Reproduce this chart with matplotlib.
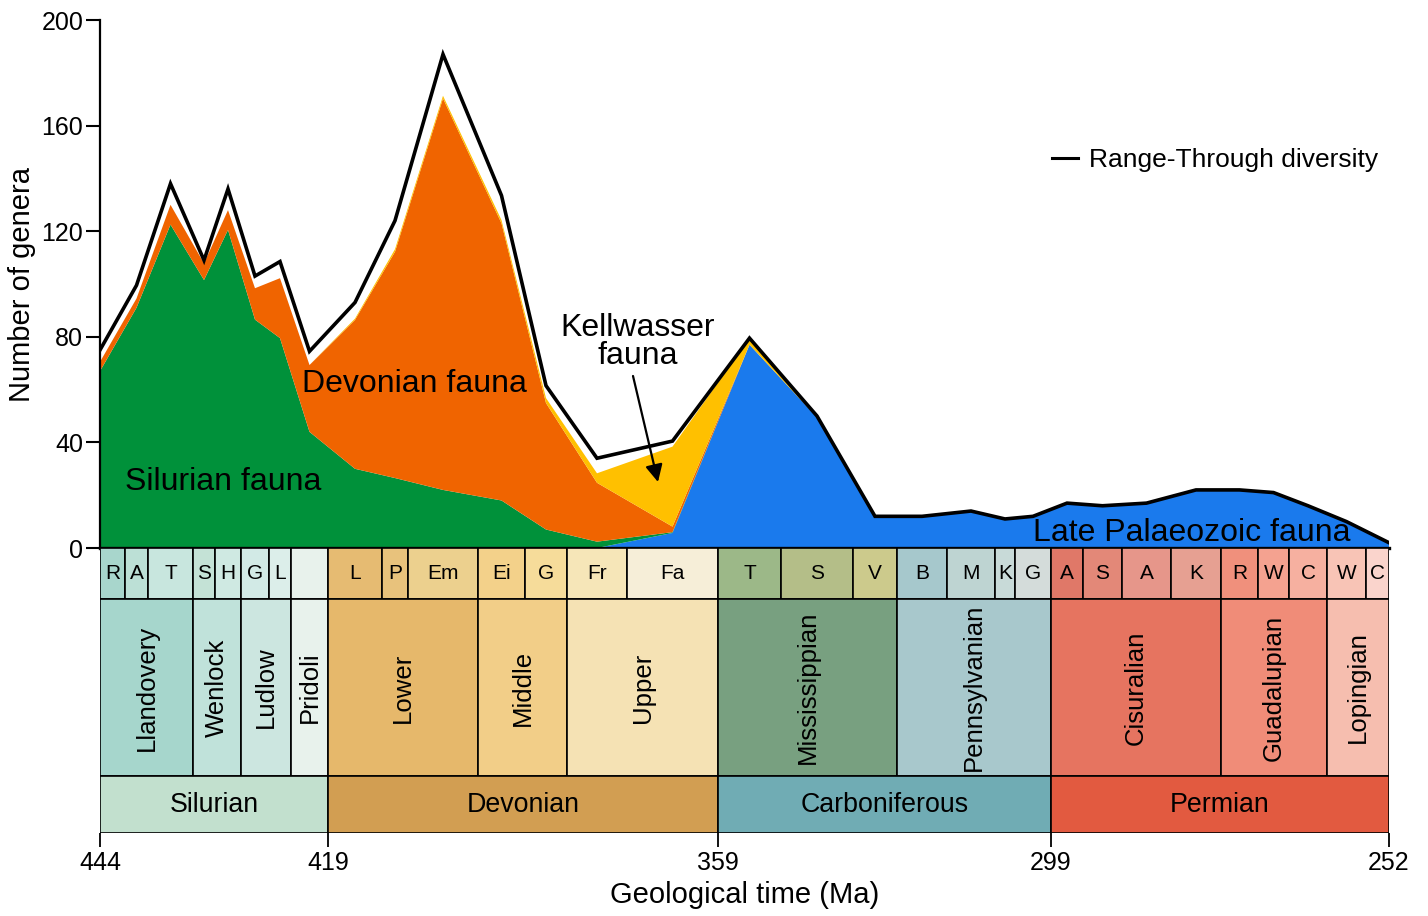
import matplotlib
matplotlib.use("Agg")
import matplotlib.pyplot as plt
import numpy as np
from matplotlib.patches import Rectangle
from matplotlib.lines import Line2D

plt.rcParams["font.family"] = ["Liberation Sans", "DejaVu Sans"]

# --- time scale (Ma, oldest first) ---
stage_edges = [444, 440.8, 438.5, 433.4, 430.5, 427.4, 425.6, 423.0, 419,
               410.8, 407.6, 393.3, 387.7, 382.7, 372.2, 359,
               346.7, 330.9, 323.2, 315.2, 307.0, 303.7, 299,
               293.5, 290.1, 283.5, 273.0, 266.9, 264.3, 259.5, 254.1, 252]
stage_names = ["R", "A", "T", "S", "H", "G", "L", "",
               "L", "P", "Em", "Ei", "G", "Fr", "Fa",
               "T", "S", "V", "B", "M", "K", "G",
               "A", "S", "A", "K", "R", "W", "C", "W", "C"]
stage_colors = ["#a8d6cc", "#bce0d6", "#c8e6de", "#c4e2d6", "#cfe9e2", "#d2eae6", "#dceeea", "#e8f2ec",
                "#e6bb72", "#e8c27c", "#ecd08e", "#f3d18a", "#f6dc9a", "#f6e6b8", "#f6eed8",
                "#9cb888", "#b4be88", "#ccca8c", "#a6c8cc", "#bed4d2", "#c8dad8", "#d4dcda",
                "#e07868", "#e38878", "#e6968a", "#e6a092", "#f0907c", "#f4a290", "#f6b0a0", "#f8c4b6", "#fad4cc"]
series_edges = [444, 433.4, 427.4, 423.0, 419, 393.3, 382.7, 359, 323.2, 299, 273.0, 259.5, 252]
series_names = ["Llandovery", "Wenlock", "Ludlow", "Pridoli", "Lower", "Middle", "Upper",
                "Mississippian", "Pennsylvanian", "Cisuralian", "Guadalupian", "Lopingian"]
series_colors = ["#a6d6cc", "#c0e2da", "#cce6e0", "#e8f2ec", "#e6b86b", "#f2ce88", "#f5e2b4",
                 "#78a080", "#a8c8cc", "#e67460", "#f08c78", "#f6beaf"]
period_edges = [444, 419, 359, 299, 252]
period_names = ["Silurian", "Devonian", "Carboniferous", "Permian"]
period_colors = ["#c2e0ce", "#d29e52", "#70acb4", "#e25a40"]

# drawn position of each stage boundary (the original axis is not to scale)
stage_px = [0, 25, 48, 93, 115, 141, 169, 191, 228, 282, 308, 378, 425, 467, 527, 618,
            681, 753, 797, 847, 895, 915, 951, 983, 1022, 1071, 1121, 1158, 1189, 1227, 1266, 1289]

# --- diversity data (genera) ---
point_age = [444, 439.65, 435.95, 431.95, 428.95, 426.5, 424.3, 421.0,
             414.9, 409.2, 400.45, 390.5, 385.2, 377.45, 365.6,
             352.85, 338.8, 327.05, 319.2, 311.1, 305.35, 301.35,
             296.25, 291.8, 286.8, 278.25, 269.95, 265.6, 261.9, 256.8, 252]
total = [75, 99.5, 138, 109, 136, 103, 108.5, 74.5, 93, 124, 187, 133.5, 61.5, 34, 40.5,
         79.5, 50, 12, 12, 14, 11, 12, 17, 16, 17, 22, 22, 21, 16, 10, 2]
late_palaeozoic = [0, 0, 0, 0, 0, 0, 0, 0, 0, 0, 0, 0, 0, 0, 5.7,
                   77, 49.5, 12, 12, 14, 11, 12, 17, 16, 17, 22, 22, 21, 16, 10, 2]
silurian = [67, 91, 122.5, 101.5, 120.5, 86.5, 79.5, 44, 30, 26.5, 22, 18, 7, 2.4, 0.3,
            0, 0, 0, 0, 0, 0, 0, 0, 0, 0, 0, 0, 0, 0, 0, 0]
devonian = [3.5, 3.5, 7.5, 6.3, 7.5, 11.9, 22.7, 25.3, 56.4, 85.7, 148.3, 105, 47.9, 22.3, 2.1,
            0, 0, 0, 0, 0, 0, 0, 0, 0, 0, 0, 0, 0, 0, 0, 0]
kellwasser = [0, 0, 0, 0, 0, 0, 0, 0, 0.5, 1, 1, 1.2, 1.9, 3.6, 30.3,
              2.5, 0.3, 0, 0, 0, 0, 0, 0, 0, 0, 0, 0, 0, 0, 0, 0]

edges_neg = -np.array(stage_edges, float)
px = np.array(stage_px, float)


def fwd(a):
    return np.interp(-np.asarray(a, float), edges_neg, px)


def inv(p):
    return np.interp(np.asarray(p, float), px, np.array(stage_edges, float))


fig = plt.figure(figsize=(14.28, 9.16), dpi=100)
W, H = 1428, 916
x0, x1 = 100, 1389
ax = fig.add_axes([x0 / W, 1 - 548 / H, (x1 - x0) / W, (548 - 20) / H])
ax2 = fig.add_axes([x0 / W, 1 - 833 / H, (x1 - x0) / W, (833 - 548) / H])

for a in (ax, ax2):
    a.set_xscale("function", functions=(fwd, inv))
    a.set_xlim(252, 444)   # forward is decreasing in age, so this puts 444 on the left

ax.stackplot(point_age, late_palaeozoic, silurian, devonian, kellwasser,
             colors=["#1a7aed", "#00913a", "#f06400", "#ffc000"], lw=0)
ax.plot(point_age, total, color="black", lw=2.6, solid_joinstyle="miter", zorder=5)

ax.set_ylim(0, 200)
ax.set_yticks([0, 40, 80, 120, 160, 200])
ax.tick_params(axis="y", length=10, width=1.5, labelsize=18, pad=2)
ax.set_xticks([])
ax.spines["top"].set_visible(False)
ax.spines["right"].set_visible(False)
ax.spines["left"].set_linewidth(1.6)
ax.spines["bottom"].set_linewidth(2.4)
ax.spines["bottom"].set_zorder(6)
ax.set_ylabel("Number of genera", fontsize=21, labelpad=4)

txt = dict(fontsize=23, transform=ax.transAxes, ha="center", va="center", zorder=7)
ax.text(0.0954, 0.125, "Silurian fauna", **txt)
ax.text(0.2436, 0.3106, "Devonian fauna", **txt)
ax.text(0.8472, 0.0284, "Late Palaeozoic fauna", **txt)
ax.text(0.4174, 0.39, "Kellwasser\nfauna", linespacing=0.9, **txt)
ax.annotate("", xy=(0.4329, 0.125), xytext=(0.4135, 0.3258),
            xycoords="axes fraction", textcoords="axes fraction",
            arrowprops=dict(arrowstyle="-|>", color="black", lw=1.6, mutation_scale=26,
                            shrinkA=0, shrinkB=0), zorder=7)

ax.legend(handles=[Line2D([], [], color="black", lw=2.2)], labels=["Range-Through diversity"],
          frameon=False, fontsize=19, handlelength=1.0, handletextpad=0.4,
          loc="center right", bbox_to_anchor=(1378 / W, 1 - 160 / H),
          bbox_transform=fig.transFigure, borderpad=0, borderaxespad=0)

# --- time scale boxes ---
ax2.set_ylim(285, 0)
rows = [(stage_edges, stage_names, stage_colors, 0, 51, 15, 0),
        (series_edges, series_names, series_colors, 51, 228, 18.5, 90),
        (period_edges, period_names, period_colors, 228, 285, 19.3, 0)]
for edges, names, colors, y0, y1, fs, rot in rows:
    for i, name in enumerate(names):
        a0, a1 = edges[i], edges[i + 1]
        ax2.add_patch(Rectangle((a0, y0), a1 - a0, y1 - y0, facecolor=colors[i],
                                edgecolor="black", lw=1.2))
        xm = inv((fwd(a0) + fwd(a1)) / 2)
        if name:
            ax2.text(xm, (y0 + y1) / 2, name, fontsize=fs, rotation=rot,
                     ha="center", va="center")

for s in ax2.spines.values():
    s.set_visible(False)
ax2.set_yticks([])
ax2.set_xticks(period_edges)
ax2.set_xticklabels([str(v) for v in period_edges])
ax2.tick_params(axis="x", length=10, width=1.3, labelsize=18, pad=3)
ax2.set_xlabel("Geological time (Ma)", fontsize=21, labelpad=4)

fig.savefig("out.png", dpi=100)
